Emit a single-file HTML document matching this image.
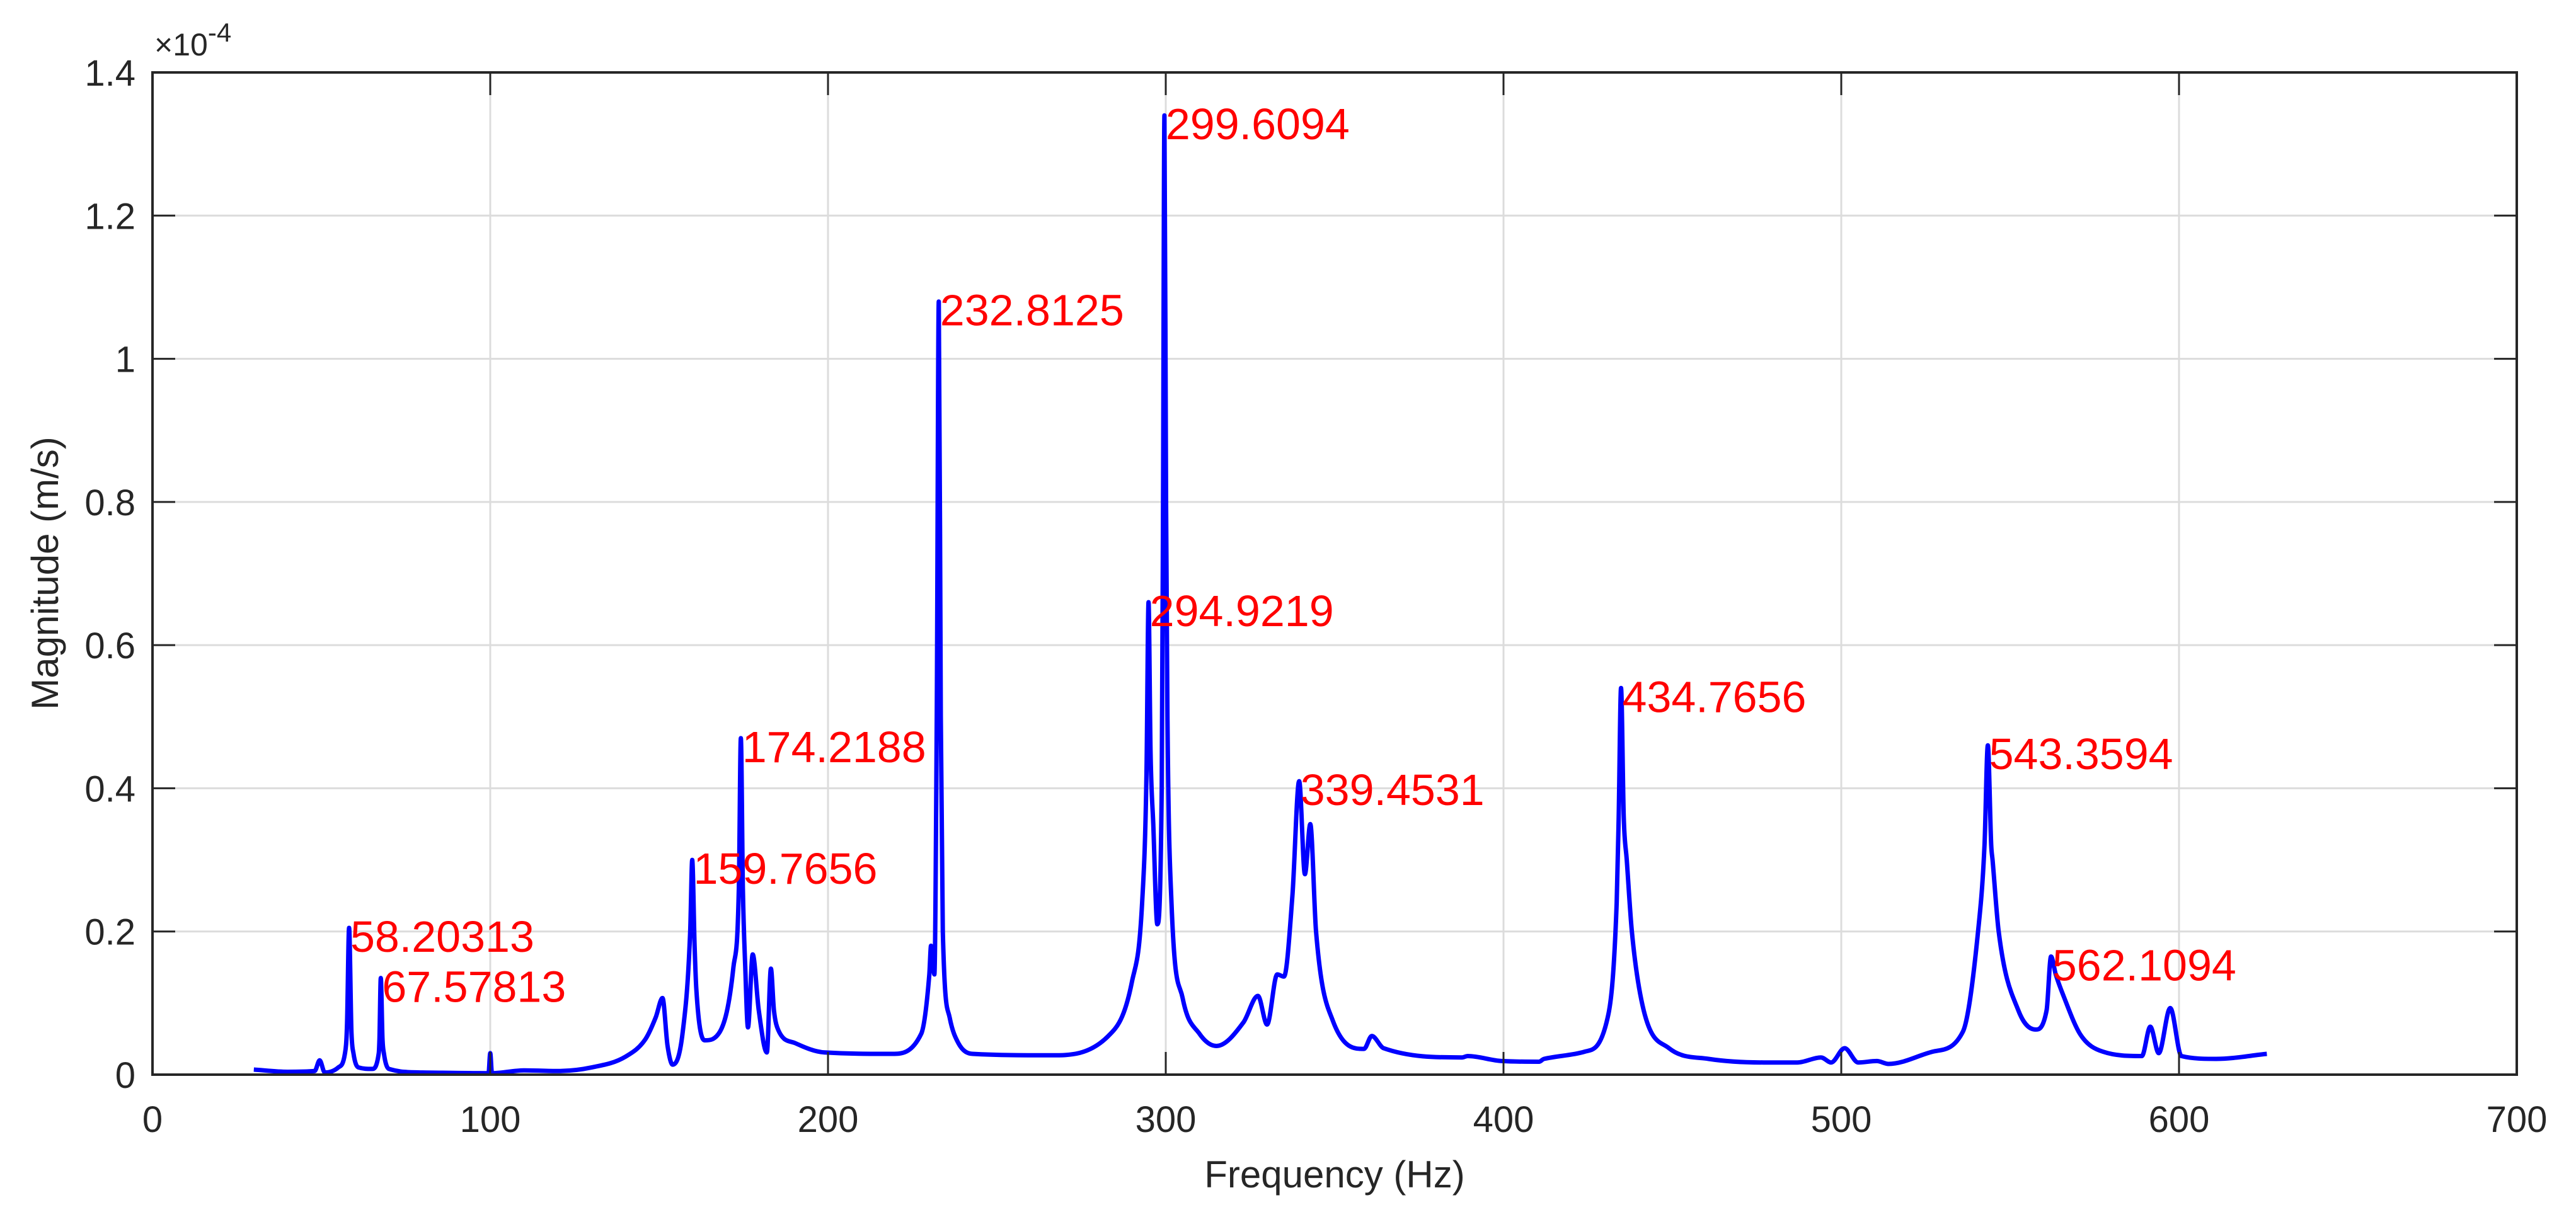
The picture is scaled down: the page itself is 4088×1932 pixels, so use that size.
<!DOCTYPE html>
<html><head><meta charset="utf-8">
<style>
html,body{margin:0;padding:0;background:#fff;}
svg{display:block;font-family:"Liberation Sans",Arial,sans-serif;}
</style></head>
<body>
<svg id="chart" width="4088" height="1932" viewBox="0 0 4088 1932" xmlns="http://www.w3.org/2000/svg">
<rect width="4088" height="1932" fill="#fff"/>
<g id="grid"></g>
<g id="series"></g>
<g id="labels"></g>
<g id="axes"></g>
<text x="245" y="88" font-size="50" fill="#262626">×10<tspan dy="-22" font-size="42">-4</tspan></text>
<text x="2118" y="1885" font-size="60" text-anchor="middle" fill="#262626">Frequency (Hz)</text>
<text transform="translate(92,910) rotate(-90)" font-size="60" text-anchor="middle" fill="#262626">Magnitude (m/s)</text>
</svg>
<script>
const xTicks = [0,100,200,300,400,500,600,700];
const yTicks = [0,0.2,0.4,0.6,0.8,1,1.2,1.4];
const yTickLabels = ["0","0.2","0.4","0.6","0.8","1","1.2","1.4"];
const freqs = [30,40,48,49.5,51,55,57,57.6,58.2,58.9,59.5,61,65,67,67.2,67.6,68.1,68.5,70,80,99.5,100,100.5,110,120,130,140,146,149,151,152.5,154,157,159.2,159.8,160.5,161,163.5,168,172,173.6,174.2,174.8,175.5,176.3,177.7,179.5,181.9,183.1,184,185.3,190.3,199,219,227.6,230,230.5,231.5,232.2,232.8,233.4,234,236,238.6,242.8,266,283,290,293,294.3,294.9,295.5,296.3,297.5,298.8,299.2,299.6,300.1,300.5,301.7,305,310,315,323,327.3,330,333,335,337.5,339.5,341.2,342.8,344.5,349.5,358.7,361,364.5,387.7,389.4,399.5,410.5,412,424,430.5,433.5,434.1,434.8,435.6,436.5,438,441.5,449,460.7,477,487,494,497,501,505,510.5,514,527,536,540.5,542.4,543.4,544.4,544.8,546.6,552.4,557.5,560.8,562.1,563.5,565.8,570.8,577.5,589,591.5,594,597.4,600.7,611,626];
const mags = [0.007,0.004,0.005,0.02,0.003,0.01,0.03,0.07,0.205,0.06,0.03,0.01,0.008,0.03,0.05,0.135,0.05,0.03,0.008,0.003,0.002,0.03,0.002,0.006,0.005,0.01,0.025,0.05,0.08,0.107,0.04,0.014,0.06,0.2,0.30,0.18,0.12,0.048,0.06,0.15,0.26,0.47,0.26,0.15,0.066,0.168,0.09,0.031,0.148,0.09,0.062,0.044,0.031,0.029,0.057,0.14,0.18,0.14,0.5,1.08,0.5,0.2,0.08,0.044,0.029,0.027,0.054,0.13,0.24,0.42,0.66,0.45,0.35,0.21,0.4,0.8,1.34,0.8,0.5,0.24,0.107,0.057,0.04,0.073,0.11,0.07,0.14,0.137,0.25,0.41,0.28,0.35,0.2,0.075,0.036,0.054,0.037,0.024,0.026,0.019,0.018,0.022,0.032,0.073,0.24,0.36,0.54,0.36,0.3,0.2,0.09,0.037,0.022,0.017,0.017,0.024,0.017,0.037,0.017,0.019,0.015,0.032,0.06,0.2,0.32,0.46,0.32,0.3,0.2,0.09,0.063,0.09,0.165,0.14,0.11,0.056,0.032,0.026,0.067,0.03,0.093,0.026,0.022,0.029];
const peakFreqs = [58.2,67.6,159.8,174.2,232.8,294.9,299.6,339.5,434.8,543.4,562.1];
const peakMags = [0.205,0.135,0.30,0.47,1.08,0.66,1.34,0.41,0.54,0.46,0.165];
const peakLabels = ["58.20313","67.57813","159.7656","174.2188","232.8125","294.9219","299.6094","339.4531","434.7656","543.3594","562.1094"];

const L=242,R=3994,T=115,B=1706;
const xs = f => L + (f/700)*(R-L);
const ys = v => B - (v/1.4)*(B-T);
const NS="http://www.w3.org/2000/svg";
function mk(tag, parent){const e=document.createElementNS(NS,tag);parent.appendChild(e);return e;}
const grid=document.getElementById('grid'), axes=document.getElementById('axes'),
      series=document.getElementById('series'), labels=document.getElementById('labels');

xTicks.forEach(t=>{
  const x=xs(t);
  if(t>0&&t<700){const g=mk('line',grid);
    
    
    g.setAttribute('x1',x);g.setAttribute('x2',x);g.setAttribute('y1',T);g.setAttribute('y2',B);
    g.setAttribute('stroke','#dcdcdc');g.setAttribute('stroke-width','3');}
  const tk=mk('line',axes);
  
  
  tk.setAttribute('x1',x);tk.setAttribute('x2',x);tk.setAttribute('y1',B);tk.setAttribute('y2',B-36);
  tk.setAttribute('stroke','#262626');tk.setAttribute('stroke-width','3');
  const tk2=mk('line',axes);
  
  
  tk2.setAttribute('x1',x);tk2.setAttribute('x2',x);tk2.setAttribute('y1',T);tk2.setAttribute('y2',T+36);
  tk2.setAttribute('stroke','#262626');tk2.setAttribute('stroke-width','3');
  const lb=mk('text',axes);
  
  
  lb.setAttribute('x',x);lb.setAttribute('y',1797);lb.setAttribute('font-size','58');
  lb.setAttribute('text-anchor','middle');lb.setAttribute('fill','#262626');
  lb.textContent=String(t);
});
yTicks.forEach((t,i)=>{
  const y=ys(t);
  if(t>0&&t<1.4){const g=mk('line',grid);
    
    
    g.setAttribute('x1',L);g.setAttribute('x2',R);g.setAttribute('y1',y);g.setAttribute('y2',y);
    g.setAttribute('stroke','#dcdcdc');g.setAttribute('stroke-width','3');}
  [[L,L+36],[R,R-36]].forEach(p=>{const tk=mk('line',axes);
    
    
    tk.setAttribute('x1',p[0]);tk.setAttribute('x2',p[1]);tk.setAttribute('y1',y);tk.setAttribute('y2',y);
    tk.setAttribute('stroke','#262626');tk.setAttribute('stroke-width','3');});
  const lb=mk('text',axes);
  
  
  lb.setAttribute('x',215);lb.setAttribute('y',y+21);lb.setAttribute('font-size','58');
  lb.setAttribute('text-anchor','end');lb.setAttribute('fill','#262626');
  lb.textContent=yTickLabels[i];
});
const box=mk('rect',axes);


box.setAttribute('x',L);box.setAttribute('y',T);box.setAttribute('width',R-L);box.setAttribute('height',B-T);
box.setAttribute('fill','none');box.setAttribute('stroke','#262626');box.setAttribute('stroke-width','4');

// monotone cubic path through data points
function monotonePath(X,Y){
  const n=X.length, d=[], m=[];
  for(let i=0;i<n-1;i++) d.push((Y[i+1]-Y[i])/(X[i+1]-X[i]));
  m[0]=d[0]; m[n-1]=d[n-2];
  for(let i=1;i<n-1;i++){ m[i]=(d[i-1]*d[i]<=0)?0:(d[i-1]+d[i])/2; }
  for(let i=0;i<n-1;i++){
    if(d[i]===0){m[i]=0;m[i+1]=0;continue;}
    const a=m[i]/d[i], b=m[i+1]/d[i], s=a*a+b*b;
    if(s>9){const t=3/Math.sqrt(s);m[i]=t*a*d[i];m[i+1]=t*b*d[i];}
  }
  let p='M'+X[0].toFixed(1)+','+Y[0].toFixed(1);
  for(let i=0;i<n-1;i++){
    const h=(X[i+1]-X[i])/3;
    p+=' C'+(X[i]+h).toFixed(1)+','+(Y[i]+m[i]*h).toFixed(1)+' '+(X[i+1]-h).toFixed(1)+','+(Y[i+1]-m[i+1]*h).toFixed(1)+' '+X[i+1].toFixed(1)+','+Y[i+1].toFixed(1);
  }
  return p;
}
const PX=freqs.map(xs), PY=mags.map(ys);
const pl=mk('path',series);


pl.setAttribute('d',monotonePath(PX,PY));pl.setAttribute('fill','none');pl.setAttribute('stroke','#0000ff');
pl.setAttribute('stroke-width','7');pl.setAttribute('stroke-linejoin','round');

peakFreqs.forEach((f,i)=>{
  const t=mk('text',labels);
  
  
  t.setAttribute('x',xs(f)+2);t.setAttribute('y',ys(peakMags[i])+38);
  t.setAttribute('font-size','70');t.setAttribute('fill','#ff0000');
  t.textContent=peakLabels[i];
});
</script>
</body></html>
